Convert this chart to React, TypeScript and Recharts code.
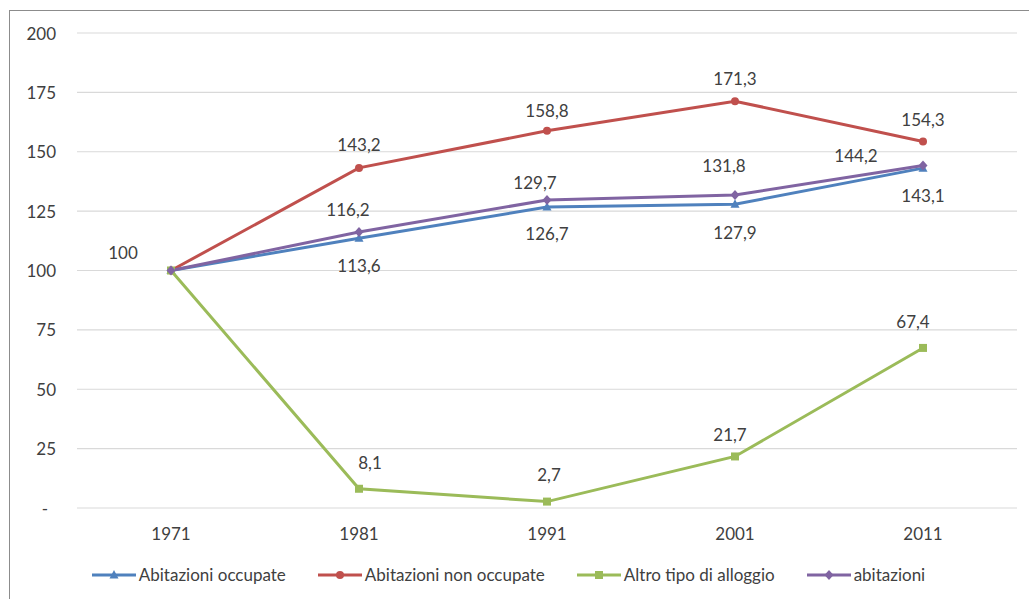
import React from "react";
import { LineChart, Line, XAxis, YAxis, CartesianGrid, Legend, LabelList } from "recharts";

const FONT = "Lato, 'Open Sans', sans-serif";
const FONT_SIZE = 17;
const TEXT_COLOR = "#404040";
const GRID_COLOR = "#d9d9d9";

const years = ["1971", "1981", "1991", "2001", "2011"];
const occupate = [100, 113.6, 126.7, 127.9, 143.1];
const nonOccupate = [100, 143.2, 158.8, 171.3, 154.3];
const altroTipo = [100, 8.1, 2.7, 21.7, 67.4];
const abitazioni = [100, 116.2, 129.7, 131.8, 144.2];
const yTicks = [0, 25, 50, 75, 100, 125, 150, 175, 200];

const data = years.map((year, i) => ({
    year,
    occupate: occupate[i],
    nonOccupate: nonOccupate[i],
    altroTipo: altroTipo[i],
    abitazioni: abitazioni[i],
}));

// label offsets [dx, dy] from the point, null = no label
type Offset = [number, number] | null;
const labelOffsets: Record<string, Offset[]> = {
    occupate: [[-48, -18], [0, 27], [0, 26], [0, 28], [0, 27]],
    nonOccupate: [null, [0, -23], [0, -20], [0, -23], [0, -22]],
    altroTipo: [null, [11, -26], [2, -27], [-5, -22], [-10, -26]],
    abitazioni: [null, [-11, -23], [-12, -17], [-11, -29], [-67, -10]],
};

type Shape = "triangle" | "circle" | "square" | "diamond";

const series: { key: string; name: string; color: string; shape: Shape }[] = [
    { key: "occupate", name: "Abitazioni occupate", color: "#4f81bd", shape: "triangle" },
    { key: "nonOccupate", name: "Abitazioni non occupate", color: "#c0504d", shape: "circle" },
    { key: "altroTipo", name: "Altro tipo di alloggio", color: "#9bbb59", shape: "square" },
    { key: "abitazioni", name: "abitazioni", color: "#8064a2", shape: "diamond" },
];

const Marker = ({ cx, cy, color, shape }: { cx: number; cy: number; color: string; shape: Shape }) => {
    if (shape === "circle") return <circle cx={cx} cy={cy} r={4} fill={color} />;
    if (shape === "square") return <rect x={cx - 4} y={cy - 4} width={8} height={8} fill={color} />;
    if (shape === "triangle")
        return <polygon points={`${cx},${cy - 5} ${cx + 4.5},${cy + 3.5} ${cx - 4.5},${cy + 3.5}`} fill={color} />;
    return <polygon points={`${cx},${cy - 5} ${cx + 4.5},${cy} ${cx},${cy + 5} ${cx - 4.5},${cy}`} fill={color} />;
};

const makeDot = (color: string, shape: Shape) => (props: any) => {
    const { cx, cy, index } = props;
    if (cx == null || cy == null) return <g key={index} />;
    return <Marker key={index} cx={cx} cy={cy} color={color} shape={shape} />;
};

const makeLabel = (key: string) => (props: any) => {
    const { x, y, value, index } = props;
    const off = labelOffsets[key][index];
    if (!off) return null;
    return (
        <text
            x={x + off[0]}
            y={y + off[1]}
            textAnchor="middle"
            dominantBaseline="central"
            fill={TEXT_COLOR}
            fontSize={FONT_SIZE}
            fontFamily={FONT}
        >
            {String(value).replace(".", ",")}
        </text>
    );
};

const YTick = (props: any) => {
    const { x, y, payload } = props;
    const isZero = payload.value === 0;
    return (
        <text
            x={isZero ? x - 8 : x}
            y={y}
            textAnchor="end"
            dominantBaseline="central"
            fill={TEXT_COLOR}
            fontSize={FONT_SIZE}
            fontFamily={FONT}
        >
            {isZero ? "-" : payload.value}
        </text>
    );
};

const renderLegend = () => (
    <div
        style={{
            display: "flex",
            justifyContent: "center",
            gap: 32,
            paddingTop: 27,
            fontFamily: FONT,
            fontSize: FONT_SIZE,
            color: TEXT_COLOR,
            lineHeight: "20px",
        }}
    >
        {series.map((s) => (
            <div key={s.key} style={{ display: "flex", alignItems: "center" }}>
                <svg width={44} height={12} style={{ marginRight: 3 }}>
                    <line x1={0} y1={6} x2={44} y2={6} stroke={s.color} strokeWidth={3} />
                    <Marker cx={22} cy={6} color={s.color} shape={s.shape} />
                </svg>
                <span>{s.name}</span>
            </div>
        ))}
    </div>
);

export default function App() {
    return (
        <div style={{ position: "absolute", left: 0, top: 0, width: 1029, height: 599, background: "#fff" }}>
            <div
                style={{
                    position: "absolute",
                    left: 9,
                    top: 10,
                    right: 0,
                    bottom: 0,
                    borderLeft: "1px solid #8c8c8c",
                    borderTop: "1px solid #8c8c8c",
                }}
            />
            <LineChart
                width={1029}
                height={599}
                data={data}
                margin={{ top: 33, right: 12, left: 0, bottom: 11 }}
                style={{ position: "absolute", left: 0, top: 0 }}
            >
                <CartesianGrid vertical={false} stroke={GRID_COLOR} strokeWidth={1.2} />
                <XAxis
                    dataKey="year"
                    axisLine={false}
                    tickLine={false}
                    height={30}
                    tickMargin={14}
                    padding={{ left: 94, right: 94 }}
                    tick={{ fill: TEXT_COLOR, fontSize: FONT_SIZE, fontFamily: FONT }}
                />
                <YAxis
                    width={77}
                    domain={[0, 200]}
                    ticks={yTicks}
                    axisLine={false}
                    tickLine={false}
                    tickMargin={15}
                    tick={<YTick />}
                />
                <Legend verticalAlign="bottom" height={50} content={renderLegend} />
                {series.map((s) => (
                    <Line
                        key={s.key}
                        dataKey={s.key}
                        name={s.name}
                        type="linear"
                        stroke={s.color}
                        strokeWidth={3}
                        dot={makeDot(s.color, s.shape)}
                        activeDot={false}
                        isAnimationActive={false}
                    >
                        <LabelList dataKey={s.key} content={makeLabel(s.key)} />
                    </Line>
                ))}
            </LineChart>
        </div>
    );
}
